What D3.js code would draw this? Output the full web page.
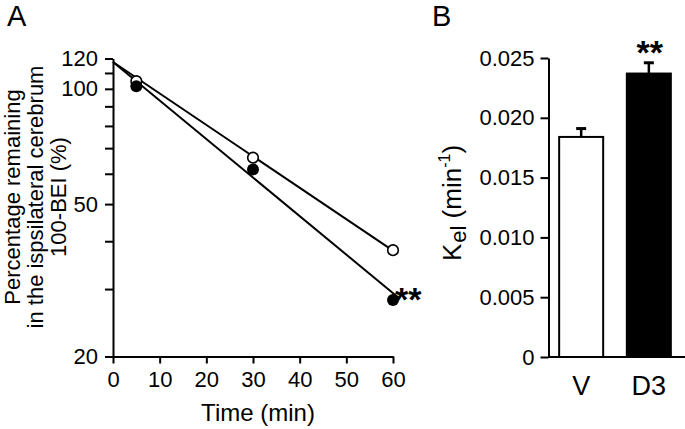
<!DOCTYPE html>
<html><head><meta charset="utf-8">
<script src="https://cdn.jsdelivr.net/npm/d3@7"></script>
<style>
body{margin:0;background:#fff}
svg{display:block}
text{font-family:"Liberation Sans",Arial,Helvetica,sans-serif;fill:#000}
</style>
</head><body>
<svg id="c" width="685" height="429"></svg>
<script>
// ---------- Panel A data ----------
const timeTicks = [0, 10, 20, 30, 40, 50, 60];
const yMajorTicks = [20, 50, 100, 120];
const yMinorTicks = [30, 40, 60, 70, 80, 90, 110];
const timesV = [5, 30, 60];
const valuesV = [104.7, 66.1, 37.9];
const timesD3 = [5, 30, 60];
const valuesD3 = [101.6, 61.6, 28.1];
const fitTimesV = [0, 60];
const fitValuesV = [117.5, 37.8];
const fitTimesD3 = [0, 61];
const fitValuesD3 = [117.5, 28.6];
// ---------- Panel B data ----------
const groups = ["V", "D3"];
const kelMeans = [0.0184, 0.0237];
const kelErrors = [0.0007, 0.0009];
const kelTicks = [0, 0.005, 0.010, 0.015, 0.020, 0.025];
const kelTickLabels = ["0", "0.005", "0.010", "0.015", "0.020", "0.025"];

const svg = d3.select("#c");
const FONT = '"Liberation Sans",Arial,Helvetica,sans-serif';

function styleAxis(g, fs) {
  g.selectAll("path.domain").attr("stroke", "#000").attr("stroke-width", 2);
  g.selectAll(".tick line").attr("stroke", "#000").attr("stroke-width", 2);
  g.selectAll(".tick text").attr("font-size", fs).attr("font-family", FONT).attr("fill", "#000");
}

// ---------- Panel A ----------
const xA = d3.scaleLinear().domain([0, 60]).range([113, 393]);
const yA = d3.scaleLog().domain([20, 120]).range([356.5, 58.5]);

const gA = svg.append("g");
const axAL = gA.append("g").attr("transform", `translate(${xA(0)},0)`)
  .call(d3.axisLeft(yA).tickValues(yMajorTicks.concat(yMinorTicks))
    .tickSize(8).tickSizeOuter(0).tickPadding(7)
    .tickFormat(d => yMajorTicks.includes(d) ? String(d) : ""));
styleAxis(axAL, 22);

const axAB = gA.append("g").attr("transform", `translate(0,${yA(20)})`)
  .call(d3.axisBottom(xA).tickValues(timeTicks).tickSize(7).tickSizeOuter(0).tickPadding(8));
styleAxis(axAB, 22);

const line = d3.line().x(d => xA(d[0])).y(d => yA(d[1]));
gA.append("path").datum(fitTimesV.map((t, i) => [t, fitValuesV[i]]))
  .attr("d", line).attr("fill", "none").attr("stroke", "#000").attr("stroke-width", 2);
gA.append("path").datum(fitTimesD3.map((t, i) => [t, fitValuesD3[i]]))
  .attr("d", line).attr("fill", "none").attr("stroke", "#000").attr("stroke-width", 2);

gA.selectAll("circle.v").data(timesV.map((t, i) => [t, valuesV[i]])).join("circle")
  .attr("class", "v").attr("cx", d => xA(d[0])).attr("cy", d => yA(d[1])).attr("r", 5.3)
  .attr("fill", "#fff").attr("stroke", "#000").attr("stroke-width", 1.6);
gA.selectAll("circle.d").data(timesD3.map((t, i) => [t, valuesD3[i]])).join("circle")
  .attr("class", "d").attr("cx", d => xA(d[0])).attr("cy", d => yA(d[1])).attr("r", 6)
  .attr("fill", "#000");

gA.append("text").attr("x", 395).attr("y", 311).attr("font-size", 34).attr("font-weight", "bold").text("**");

gA.append("text").attr("x", 258).attr("y", 421).attr("text-anchor", "middle").attr("font-size", 24).text("Time (min)");

const yTitleLines = ["Percentage remaining", "in the ispsilateral cerebrum", "100-BEI (%)"];
yTitleLines.forEach((s, i) => {
  gA.append("text").attr("transform", `translate(${20 + i * 23},197) rotate(-90)`)
    .attr("text-anchor", "middle").attr("font-size", 22).text(s);
});

svg.append("text").attr("x", 7).attr("y", 26).attr("font-size", 29).text("A");
svg.append("text").attr("x", 432).attr("y", 26).attr("font-size", 29).text("B");

// ---------- Panel B ----------
const yB = d3.scaleLinear().domain([0, 0.025]).range([357, 58]);
const xB = d3.scaleBand().domain(groups).range([548, 682]).paddingInner(0.32).paddingOuter(0.15);

const gB = svg.append("g");
const axBL = gB.append("g").attr("transform", "translate(548.5,0)")
  .call(d3.axisLeft(yB).tickValues(kelTicks).tickSize(8).tickSizeOuter(0).tickPadding(6)
    .tickFormat((d, i) => kelTickLabels[i]));
styleAxis(axBL, 22);

gB.append("line").attr("x1", 548).attr("x2", 685).attr("y1", yB(0)).attr("y2", yB(0))
  .attr("stroke", "#000").attr("stroke-width", 2);

const barData = groups.map((g, i) => ({ g, m: kelMeans[i], e: kelErrors[i] }));
gB.selectAll("line.err").data(barData).join("line").attr("class", "err")
  .attr("x1", d => xB(d.g) + xB.bandwidth() / 2).attr("x2", d => xB(d.g) + xB.bandwidth() / 2)
  .attr("y1", d => yB(d.m)).attr("y2", d => yB(d.m + d.e))
  .attr("stroke", "#000").attr("stroke-width", 2.5);
gB.selectAll("line.cap").data(barData).join("line").attr("class", "cap")
  .attr("x1", d => xB(d.g) + xB.bandwidth() / 2 - 5).attr("x2", d => xB(d.g) + xB.bandwidth() / 2 + 5)
  .attr("y1", d => yB(d.m + d.e)).attr("y2", d => yB(d.m + d.e))
  .attr("stroke", "#000").attr("stroke-width", 3);
gB.selectAll("rect.bar").data(barData).join("rect").attr("class", "bar")
  .attr("x", d => xB(d.g) + 1).attr("width", xB.bandwidth() - 2)
  .attr("y", d => yB(d.m)).attr("height", d => yB(0) - yB(d.m))
  .attr("fill", (d, i) => i === 0 ? "#fff" : "#000")
  .attr("stroke", "#000").attr("stroke-width", 2);

gB.selectAll("text.cat").data(groups).join("text").attr("class", "cat")
  .attr("x", d => xB(d) + xB.bandwidth() / 2).attr("y", 395)
  .attr("text-anchor", "middle").attr("font-size", 27).text(d => d);

gB.append("text").attr("x", xB("D3") + xB.bandwidth() / 2 + 1).attr("y", 64)
  .attr("text-anchor", "middle").attr("font-size", 34).attr("font-weight", "bold").text("**");

const kt = gB.append("text").attr("transform", "translate(461,203) rotate(-90)")
  .attr("text-anchor", "middle").attr("font-size", 26);
kt.append("tspan").text("K");
kt.append("tspan").attr("font-size", 22).attr("dx", 1).attr("dy", 5).text("el");
kt.append("tspan").attr("dy", -5).text(" (min");
kt.append("tspan").attr("font-size", 16).attr("dy", -11).text("-1");
kt.append("tspan").attr("dy", 11).text(")");
</script>
</body></html>
